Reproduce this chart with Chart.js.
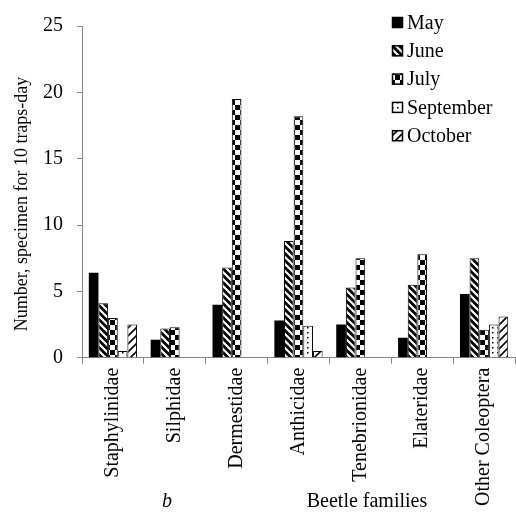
<!DOCTYPE html>
<html>
<head>
<meta charset="utf-8">
<script src="https://cdn.jsdelivr.net/npm/chart.js@4"></script>
<style>
html,body{margin:0;padding:0;background:#fff;}
#wrap{width:516px;height:517px;}
</style>
</head>
<body>
<div id="wrap"><canvas id="c" width="516" height="517"></canvas></div>
<script>
const categories = ["Staphylinidae","Silphidae","Dermestidae","Anthicidae","Tenebrionidae","Elateridae","Other Coleoptera"];
const seriesNames = ["May","June","July","September","October"];
const may       = [6.4, 1.35, 4.0, 2.8, 2.5, 1.5, 4.8];
const june      = [4.1, 2.2, 6.8, 8.8, 5.3, 5.5, 7.5];
const july      = [3.0, 2.3, 19.5, 18.2, 7.5, 7.8, 2.1];
const september = [0.5, 0, 0, 2.4, 0, 0, 2.5];
const october   = [2.5, 0, 0, 0.5, 0, 0, 3.1];
const yTicks = [0,5,10,15,20,25];
const yTitle = 'Number, specimen for 10 traps-day';
const xTitle = 'Beetle families';
const panelLetter = 'b';

const FONT = "'Liberation Serif','Times New Roman',serif";

function makePattern(size, draw){
  const c = document.createElement('canvas');
  c.width = size; c.height = size;
  const x = c.getContext('2d');
  draw(x, size);
  return document.getElementById('c').getContext('2d').createPattern(c, 'repeat');
}
const pMay = '#000';
const pJune = makePattern(7, (x,s)=>{
  x.fillStyle='#000'; x.fillRect(0,0,s,s);
  x.strokeStyle='#fff'; x.lineWidth=2.2;
  x.beginPath(); x.moveTo(-1,-1); x.lineTo(s+1,s+1);
  x.moveTo(-1-s,-1); x.lineTo(1,s+1);
  x.moveTo(s-1,-1); x.lineTo(2*s+1,s+1); x.stroke();
});
const pJuly = makePattern(10, (x,s)=>{
  x.fillStyle='#fff'; x.fillRect(0,0,s,s);
  x.fillStyle='#000'; x.fillRect(0,0,5,5); x.fillRect(5,5,5,5);
});
const pSep = makePattern(5, (x,s)=>{
  x.fillStyle='#fff'; x.fillRect(0,0,s,s);
  x.fillStyle='#000'; x.fillRect(2,2,1.5,1.5);
});
const pOct = makePattern(8, (x,s)=>{
  x.fillStyle='#fff'; x.fillRect(0,0,s,s);
  x.strokeStyle='#000'; x.lineWidth=1.6;
  x.beginPath(); x.moveTo(0,s); x.lineTo(s,0);
  x.moveTo(-s/2,s/2); x.lineTo(s/2,-s/2);
  x.moveTo(s/2,s*1.5); x.lineTo(s*1.5,s/2); x.stroke();
});
const fills = [pMay,pJune,pJuly,pSep,pOct];
const values = [may,june,july,september,october];

const legendPlugin = {
  id:'customLegend',
  afterDraw(chart){
    const ctx = chart.ctx;
    ctx.save();
    const x0 = 392, y0 = 22.5, step = 28.3, bs = 11;
    chart.data.datasets.forEach((ds,i)=>{
      const cy = y0 + i*step;
      ctx.fillStyle = ds.backgroundColor;
      ctx.fillRect(x0, cy-bs/2, bs, bs);
      ctx.strokeStyle='#000'; ctx.lineWidth=1.5;
      ctx.strokeRect(x0+0.5, cy-bs/2+0.5, bs-1, bs-1);
      ctx.fillStyle='#000';
      ctx.font = "20px " + FONT;
      ctx.textBaseline='middle'; ctx.textAlign='left';
      ctx.fillText(ds.label, x0+bs+4, cy+1);
    });
    ctx.font = "italic 20px " + FONT;
    ctx.textAlign='center'; ctx.textBaseline='alphabetic';
    ctx.fillText(panelLetter, 167, 507);
    ctx.font = "20px " + FONT;
    ctx.fillText(xTitle, 367, 507);
    ctx.save();
    ctx.translate(22, 204);
    ctx.rotate(-Math.PI/2);
    ctx.font = "18px " + FONT;
    ctx.textBaseline='middle';
    ctx.fillText(yTitle, 0, 0);
    ctx.restore();
    ctx.restore();
  }
};

new Chart(document.getElementById('c'), {
  type:'bar',
  data:{
    labels: categories,
    datasets: seriesNames.map((n,i)=>({
      label:n, data:values[i], backgroundColor:fills[i],
      borderColor:'#000', borderWidth: i===0?0:1,
      categoryPercentage:0.78, barPercentage:1.0
    }))
  },
  options:{
    responsive:false, animation:false,
    devicePixelRatio:1,
    layout:{padding:{top:6,right:1,left:29,bottom:7}},
    plugins:{legend:{display:false}, tooltip:{enabled:false}},
    scales:{
      x:{
        grid:{offset:true, drawOnChartArea:false, tickLength:6, color:'#868686'},
        border:{color:'#868686'},
        ticks:{minRotation:90, maxRotation:90, color:'#000', padding:4, font:{family:FONT,size:20}}
      },
      y:{
        min:0, max:25,
        afterBuildTicks(axis){ axis.ticks = yTicks.map(v=>({value:v})); },
        grid:{drawOnChartArea:false, tickLength:5, color:'#868686'},
        border:{color:'#868686'},
        ticks:{color:'#000', padding:14, font:{family:FONT,size:20}}
      }
    }
  },
  plugins:[legendPlugin]
});
</script>
</body>
</html>
